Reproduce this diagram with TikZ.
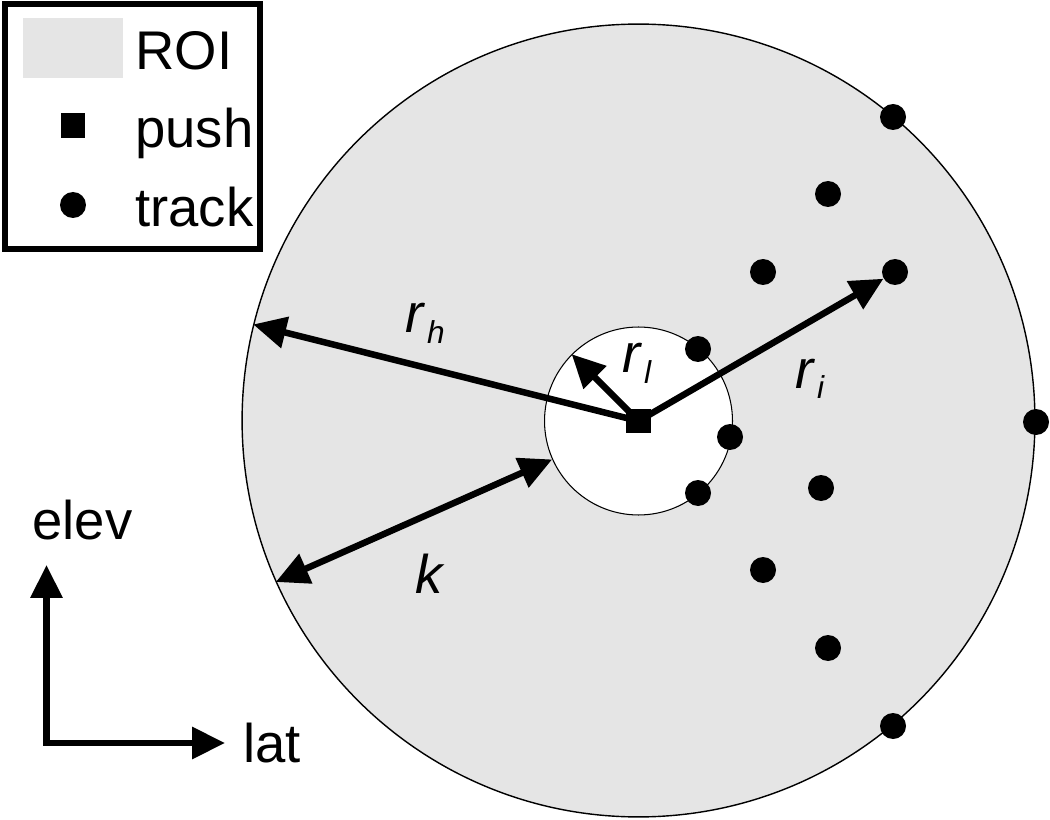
\documentclass[tikz,border=0pt]{standalone}
\usepackage{fontspec}
\setmainfont{Liberation Sans}
\usetikzlibrary{arrows.meta}
\definecolor{roigray}{gray}{0.9}
\newcommand{\rlab}[1]{\textit{r}\kern1pt\raisebox{-0.22cm}{\fontsize{18}{18}\selectfont\textit{#1}}}

\begin{document}
\begin{tikzpicture}[x=0.02cm, y=-0.02cm,
  >={Triangle[length=0.66cm, width=0.62cm]},
  track/.style={circle, fill=black, inner sep=0pt, minimum size=0.52cm},
  push/.style={rectangle, fill=black, inner sep=0pt, minimum size=0.5cm},
  lbl/.style={anchor=base west, inner sep=0pt, font=\fontsize{31}{31}\selectfont},
  arr/.style={line width=3.7pt, ->}]
\fill[white] (0,0) rectangle (1050,820);
\useasboundingbox (0,0) rectangle (1050,820);

\node[circle, draw, line width=0.8pt, fill=roigray, inner sep=0pt, minimum size=15.86cm] (roi) at (638.5,420.5) {};
\node[circle, draw, line width=0.6pt, fill=white, inner sep=0pt, minimum size=3.76cm] (hole) at (638.5,421) {};

\node[track] (t1) at (893,117) {};
\node[track] (t2) at (828,194) {};
\node[track] (t3) at (763,272) {};
\node[track] (t4) at (895,272) {};
\node[track] (t5) at (698,349) {};
\node[track] (t6) at (730,437) {};
\node[track] (t7) at (1036,422) {};
\node[track] (t8) at (698,493) {};
\node[track] (t9) at (821,488) {};
\node[track] (t10) at (763,570) {};
\node[track] (t11) at (828,648) {};
\node[track] (t12) at (893,726) {};

\path[draw,arr] (638.5,421) -- (roi.166.4);
\path[draw,arr] (638.5,421) -- (hole.135);
\path[draw,arr] (638.5,421) -- (t4);
\path[draw,arr,<->] (hole.204) -- (roi.204);
\node[push] (p) at (638.5,421) {};

\node[lbl] (rh) at (405,333) {\rlab{h}};
\node[lbl] (rl) at (622,373) {\rlab{l}};
\node[lbl] (ri) at (795,388) {\rlab{i}};
\node[lbl] (k) at (415,593) {\textit{k}};

\coordinate (o) at (46.5,743);
\coordinate (up) at (46.5,565);
\coordinate (right) at (225,743);
\path[draw,arr,<->] (up) -- (o) -- (right);
\node[lbl] (elev) at (32,539) {elev};
\node[lbl] (lat) at (243,762) {lat};

\path[draw, line width=0.11cm] (5,4) rectangle (260,249);
\fill[roigray] (23,18) rectangle (123,78);
\node[push] (lp) at (73,126) {};
\node[track] (lt) at (73,205) {};
\node[lbl] (roitxt) at (135,70) {ROI};
\node[lbl] (pushtxt) at (135,148) {push};
\node[lbl] (tracktxt) at (135,227) {track};
\end{tikzpicture}
\end{document}
